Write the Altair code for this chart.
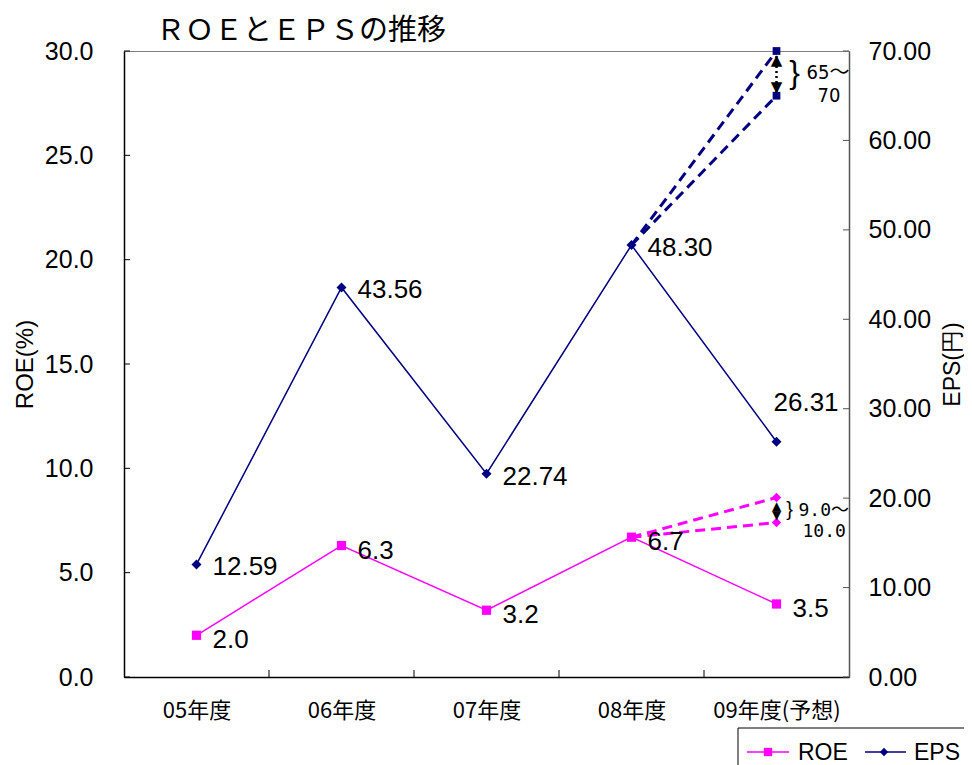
import json
import altair as alt
import pandas as pd

# ---------------- data ----------------
categories = ["05年度", "06年度", "07年度", "08年度", "09年度(予想)"]
roe_values = [2.0, 6.3, 3.2, 6.7, 3.5]
eps_values = [12.59, 43.56, 22.74, 48.30, 26.31]
roe_text = ["2.0", "6.3", "3.2", "6.7", "3.5"]
eps_text = ["12.59", "43.56", "22.74", "48.30", "26.31"]
roe_forecast = [8.6, 7.4]      # forecast band 9.0～10.0 as drawn
eps_forecast = [70.0, 65.0]    # forecast band 65～70
roe_range_text = ["9.0～", "10.0"]
eps_range_text = ["65～", "70"]
roe_ticks = [0, 5, 10, 15, 20, 25, 30]
eps_ticks = [0, 10, 20, 30, 40, 50, 60, 70]
boundaries = [0.5, 1.5, 2.5, 3.5]

W, H = 725, 626
PINK = "#FF00FF"
NAVY = "#000080"
LATIN = "Liberation Sans"
CJK = "Noto Sans CJK JP"
NARROW = "Liberation Sans Narrow, DejaVu Sans Condensed, Noto Sans CJK JP, sans-serif"
MONO = "DejaVu Sans Mono, Liberation Mono, Noto Sans CJK JP, monospace"

idx = list(range(len(categories)))
main = pd.DataFrame({"i": idx, "cat": categories, "roe": roe_values,
                     "eps": eps_values, "roe_t": roe_text, "eps_t": eps_text})
last = idx[-1]
prev = idx[-2]
roe_fc = pd.DataFrame({"i": [prev, last, prev, last],
                       "v": [roe_values[prev], roe_forecast[0], roe_values[prev], roe_forecast[1]],
                       "g": ["hi", "hi", "lo", "lo"]})
eps_fc = pd.DataFrame({"i": [prev, last, prev, last],
                       "v": [eps_values[prev], eps_forecast[0], eps_values[prev], eps_forecast[1]],
                       "g": ["hi", "hi", "lo", "lo"]})
roe_band = pd.DataFrame({"i": [last], "hi": [roe_forecast[0]], "lo": [roe_forecast[1]],
                         "mid": [(roe_forecast[0] + roe_forecast[1]) / 2],
                         "t1": [roe_range_text[0]], "t2": [roe_range_text[1]]})
eps_band = pd.DataFrame({"i": [last], "hi": [eps_forecast[0]], "lo": [eps_forecast[1]],
                         "mid": [(eps_forecast[0] + eps_forecast[1]) / 2],
                         "t1": [eps_range_text[0]], "t2": [eps_range_text[1]]})
roe_tick_df = pd.DataFrame({"v": roe_ticks})
eps_tick_df = pd.DataFrame({"v": eps_ticks})
bound_df = pd.DataFrame({"b": boundaries})
one = pd.DataFrame({"a": [0]})

label_expr = "[" + ",".join(json.dumps(c, ensure_ascii=False) for c in categories) + "][datum.value]"

X = alt.X("i:Q", scale=alt.Scale(domain=[-0.5, 4.5], nice=False, zero=False),
          axis=alt.Axis(values=idx, labelExpr=label_expr, title=None, grid=False,
                        ticks=False, tickSize=0, labelPadding=23, labelFont=CJK,
                        labelFontSize=22, labelColor="black", domainColor="black",
                        domainWidth=1.5))


def YL(field):
    return alt.Y(field, type="quantitative",
                 scale=alt.Scale(domain=[0, 30], nice=False, zero=True),
                 axis=alt.Axis(values=roe_ticks, format=".1f", title="ROE(%)", grid=False,
                               ticks=False, tickSize=0, labelPadding=31, labelFont=LATIN,
                               labelFontSize=25, labelColor="black", titleFont=LATIN,
                               titleFontSize=24, titleFontWeight="normal", titleColor="black",
                               titlePadding=7, domainColor="black", domainWidth=1.5))


def YR(field):
    return alt.Y(field, type="quantitative",
                 scale=alt.Scale(domain=[0, 70], nice=False, zero=True),
                 axis=alt.Axis(orient="right", values=eps_ticks, format=".2f", title="EPS(円)",
                               grid=False, ticks=False, tickSize=0, labelPadding=19,
                               labelFont=LATIN, labelFontSize=25, labelColor="black",
                               titleFont=LATIN, titleFontSize=23, titleFontWeight="normal",
                               titleColor="black", titlePadding=11, titleAngle=270,
                               titleBaseline="top", domainColor="#555555", domainWidth=1.5))


# ---------------- ROE (left axis) group ----------------
roe_line = alt.Chart(main).mark_line(color=PINK, strokeWidth=1.5).encode(x=X, y=YL("roe"))
roe_pts = alt.Chart(main).mark_point(shape="square", filled=True, opacity=1, color=PINK,
                                     size=85).encode(x=X, y=YL("roe"))
roe_lbl = alt.Chart(main).mark_text(align="left", baseline="middle", dx=16, dy=5,
                                    font=LATIN, fontSize=26, color="black").encode(
    x=X, y=YL("roe"), text="roe_t:N")
roe_fc_line = alt.Chart(roe_fc).mark_line(color=PINK, strokeWidth=3, strokeDash=[10, 6]).encode(
    x=X, y=YL("v"), detail="g:N")
roe_fc_pts = alt.Chart(roe_fc).transform_filter(alt.datum.i == last).mark_point(
    shape="diamond", filled=True, opacity=1, color=PINK, size=90).encode(x=X, y=YL("v"))
roe_up = alt.Chart(roe_band).mark_text(text="▲", dy=8, fontSize=12, color="black",
                                       font="DejaVu Sans").encode(x=X, y=YL("hi"))
roe_dn = alt.Chart(roe_band).mark_text(text="▼", dy=-8, fontSize=12, color="black",
                                       font="DejaVu Sans").encode(x=X, y=YL("lo"))
roe_brace = alt.Chart(roe_band).mark_text(text="}", dx=13, fontSize=20, color="black",
                                          font=LATIN).encode(x=X, y=YL("mid"))
roe_t1 = alt.Chart(roe_band).mark_text(align="left", dx=22, dy=1, fontSize=18, color="black",
                                       font=MONO).encode(x=X, y=YL("mid"), text="t1:N")
roe_t2 = alt.Chart(roe_band).mark_text(align="left", dx=26, dy=22, fontSize=18, color="black",
                                       font=MONO).encode(x=X, y=YL("mid"), text="t2:N")
left_ticks = alt.Chart(roe_tick_df).mark_rule(color="black", strokeWidth=1).encode(
    y=YL("v"), x=alt.value(0), x2=alt.value(6))
x_ticks = alt.Chart(bound_df).mark_rule(color="black", strokeWidth=1).encode(
    x=alt.X("b:Q", scale=alt.Scale(domain=[-0.5, 4.5], nice=False, zero=False)),
    y=alt.value(H), y2=alt.value(H - 7))

# legend (bottom right, cut by the window edge)
leg_top = alt.Chart(one).mark_rule(color="black", strokeWidth=1).encode(
    x=alt.value(614), x2=alt.value(860), y=alt.value(677))
leg_left = alt.Chart(one).mark_rule(color="black", strokeWidth=1).encode(
    x=alt.value(614), y=alt.value(677), y2=alt.value(730))
leg_roe_line = alt.Chart(one).mark_rule(color=PINK, strokeWidth=1.5).encode(
    x=alt.value(623), x2=alt.value(665), y=alt.value(701))
leg_roe_pt = alt.Chart(one).mark_point(shape="square", filled=True, opacity=1, color=PINK,
                                       size=70).encode(x=alt.value(644), y=alt.value(701))
leg_roe_t = alt.Chart(one).mark_text(text="ROE", align="left", baseline="middle", font=LATIN,
                                     fontSize=23, color="black").encode(
    x=alt.value(674), y=alt.value(702))
leg_eps_line = alt.Chart(one).mark_rule(color=NAVY, strokeWidth=1.5).encode(
    x=alt.value(741), x2=alt.value(782), y=alt.value(701))
leg_eps_pt = alt.Chart(one).mark_point(shape="diamond", filled=True, opacity=1, color=NAVY,
                                       size=70).encode(x=alt.value(760), y=alt.value(701))
leg_eps_t = alt.Chart(one).mark_text(text="EPS", align="left", baseline="middle", font=LATIN,
                                     fontSize=23, color="black").encode(
    x=alt.value(790), y=alt.value(702))

roe_group = alt.layer(roe_line, roe_fc_line, roe_pts, roe_fc_pts, roe_lbl, roe_up, roe_dn,
                      roe_brace, roe_t1, roe_t2, left_ticks, x_ticks,
                      leg_top, leg_left, leg_roe_line, leg_roe_pt, leg_roe_t,
                      leg_eps_line, leg_eps_pt, leg_eps_t)

# ---------------- EPS (right axis) group ----------------
eps_line = alt.Chart(main).mark_line(color=NAVY, strokeWidth=1.5).encode(x=X, y=YR("eps"))
eps_pts = alt.Chart(main).mark_point(shape="diamond", filled=True, opacity=1, color=NAVY,
                                     size=100).encode(x=X, y=YR("eps"))
eps_lbl = alt.Chart(main).transform_filter(alt.datum.i < last).mark_text(
    align="left", baseline="middle", dx=16, dy=3, font=LATIN, fontSize=26, color="black").encode(
    x=X, y=YR("eps"), text="eps_t:N")
eps_lbl_last = alt.Chart(main).transform_filter(alt.datum.i == last).mark_text(
    align="left", baseline="middle", dx=-3, dy=-39, font=LATIN, fontSize=26, color="black").encode(
    x=X, y=YR("eps"), text="eps_t:N")
eps_fc_line = alt.Chart(eps_fc).mark_line(color=NAVY, strokeWidth=3, strokeDash=[10, 6]).encode(
    x=X, y=YR("v"), detail="g:N")
eps_fc_pts = alt.Chart(eps_fc).transform_filter(alt.datum.i == last).mark_point(
    shape="square", filled=True, opacity=1, color=NAVY, size=60).encode(x=X, y=YR("v"))
eps_arrow = alt.Chart(eps_band).mark_rule(color="black", strokeWidth=2.5, strokeDash=[2, 3]).encode(
    x=X, y=YR("hi"), y2="lo:Q")
eps_up = alt.Chart(eps_band).mark_text(text="▲", dy=9, fontSize=15, color="black",
                                       font="DejaVu Sans").encode(x=X, y=YR("hi"))
eps_dn = alt.Chart(eps_band).mark_text(text="▼", dy=-9, fontSize=15, color="black",
                                       font="DejaVu Sans").encode(x=X, y=YR("lo"))
eps_brace = alt.Chart(eps_band).mark_text(text="}", dx=18, fontSize=32, color="black",
                                          font=LATIN).encode(x=X, y=YR("mid"))
eps_t1 = alt.Chart(eps_band).mark_text(align="left", dx=30, dy=0, fontSize=20, color="black",
                                       font=NARROW).encode(x=X, y=YR("mid"), text="t1:N")
eps_t2 = alt.Chart(eps_band).mark_text(align="left", dx=41, dy=23, fontSize=20, color="black",
                                       font=NARROW).encode(x=X, y=YR("mid"), text="t2:N")
right_ticks = alt.Chart(eps_tick_df).mark_rule(color="#555555", strokeWidth=1).encode(
    y=YR("v"), x=alt.value(W - 6), x2=alt.value(W))

eps_group = alt.layer(eps_line, eps_fc_line, eps_arrow, eps_pts, eps_fc_pts, eps_lbl,
                      eps_lbl_last, eps_up, eps_dn, eps_brace, eps_t1, eps_t2, right_ticks)

chart = alt.layer(roe_group, eps_group).resolve_scale(y="independent").properties(
    width=W, height=H,
    autosize=alt.AutoSizeParams(type="none"),
    padding={"left": 116, "top": 43, "right": 115, "bottom": 100},
    title=alt.TitleParams("ＲＯＥとＥＰＳの推移", anchor="start", frame="group", dx=32,
                          offset=-7, fontSize=29, font=CJK, fontWeight="normal", color="black"),
).configure_view(stroke="#808080", strokeWidth=1)

chart.save("out.html", embed_options={"renderer": "svg", "actions": False})
